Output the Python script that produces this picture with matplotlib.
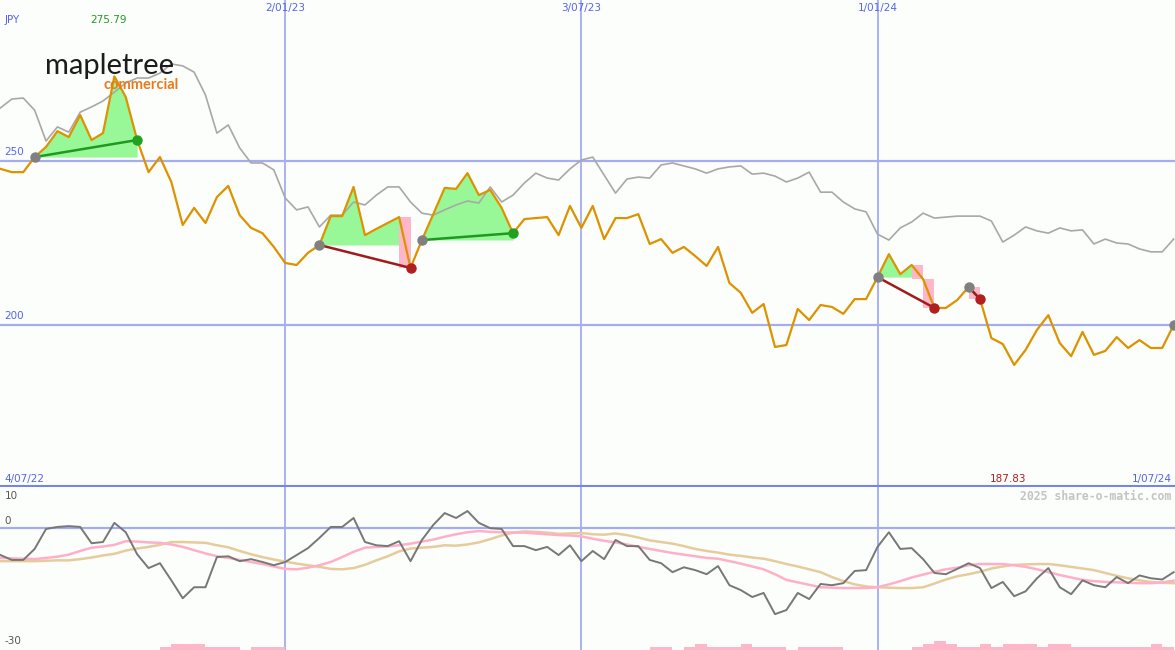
import matplotlib
matplotlib.use('Agg')
import matplotlib.pyplot as plt
import pandas as pd

# weekly closes, Mapletree Commercial (JPY scale as shown) and comparison index
dates = pd.date_range(end='2024-07-01', periods=104, freq='7D')

price = [247.6, 246.6, 246.6, 251.2, 254.3, 259.1, 257.3, 264.0, 256.4, 258.5,
         275.79, 269.5, 256.4, 246.6, 251.2, 243.6, 230.5, 235.7, 231.1, 239.0,
         242.4, 233.5, 229.6, 228.0, 223.8, 218.9, 218.3, 222.0, 224.4, 233.2,
         233.2, 242.1, 227.4, 229.3, 231.1, 232.9, 217.4, 225.9, 233.8, 241.8,
         241.5, 246.3, 239.6, 241.2, 235.7, 228.0, 232.3, 232.6, 232.9, 227.4,
         236.3, 229.6, 236.3, 226.2, 232.6, 232.6, 233.8, 224.7, 226.2, 222.0,
         223.8, 221.0, 218.0, 223.8, 212.8, 209.8, 203.7, 206.4, 193.3, 193.9,
         204.9, 201.5, 206.1, 205.5, 203.4, 207.9, 207.9, 214.6, 221.6, 215.5,
         218.3, 214.0, 205.2, 205.2, 207.6, 211.6, 207.9, 196.0, 194.2, 187.83,
         192.4, 198.5, 203.0, 194.5, 190.5, 197.9, 190.9, 192.1, 196.3, 193.0,
         195.4, 193.0, 193.0, 200.0]

index_line = [266.2, 268.9, 269.2, 265.5, 256.1, 260.4, 258.8, 264.9, 266.5, 268.3,
              271.0, 273.8, 275.3, 275.3, 276.8, 279.6, 279.0, 277.1, 270.1, 258.5,
              261.0, 254.0, 249.4, 249.4, 247.3, 238.7, 235.1, 236.0, 229.9, 233.5,
              233.5, 237.5, 236.6, 239.6, 242.1, 242.1, 237.5, 234.1, 233.5, 235.1,
              236.6, 237.8, 237.2, 242.1, 237.5, 239.6, 243.3, 246.3, 244.8, 244.2,
              247.6, 250.3, 251.2, 245.7, 240.2, 244.5, 245.1, 244.8, 248.8, 249.4,
              248.5, 247.6, 246.3, 247.6, 248.2, 248.5, 246.0, 246.3, 245.4, 243.6,
              244.8, 246.6, 240.5, 240.5, 237.5, 235.4, 234.5, 227.7, 225.9, 229.6,
              231.4, 234.1, 232.6, 232.9, 233.2, 233.2, 233.2, 231.7, 225.3, 227.4,
              229.9, 228.7, 228.0, 229.6, 228.7, 229.0, 224.7, 226.2, 225.0, 224.7,
              223.2, 222.3, 222.3, 226.2]

momentum = [-6.7, -7.9, -7.9, -5.2, -0.3, 0.2, 0.4, 0.2, -3.8, -3.5,
            1.2, -1.1, -6.5, -9.9, -8.7, -12.9, -17.3, -14.6, -14.6, -7.2,
            -7.0, -8.2, -7.7, -8.4, -9.2, -8.4, -6.7, -5.0, -2.5, 0.2,
            0.2, 2.4, -3.5, -4.3, -4.5, -3.3, -8.2, -3.0, 0.7, 3.6,
            2.4, 4.1, 1.2, -0.1, -0.3, -4.5, -4.5, -5.5, -4.7, -6.7,
            -4.3, -8.2, -5.7, -7.7, -3.0, -4.5, -4.5, -7.9, -8.7, -10.9,
            -9.7, -10.4, -11.4, -9.4, -14.1, -15.3, -17.0, -16.0, -21.2, -20.2,
            -16.0, -17.5, -13.8, -14.1, -13.6, -10.6, -10.4, -4.7, -1.1, -5.2,
            -5.0, -7.7, -11.1, -11.4, -10.1, -8.7, -9.9, -14.8, -13.3, -16.8,
            -15.6, -12.4, -9.9, -14.6, -16.3, -12.9, -14.1, -14.6, -12.1, -13.6,
            -11.7, -12.4, -12.7, -10.9]

avg_fast = [-7.4, -7.5, -7.6, -7.7, -7.4, -7.1, -6.6, -5.7, -4.9, -4.6,
            -4.2, -3.3, -3.4, -3.6, -3.7, -4.1, -4.7, -5.5, -6.3, -7.0,
            -7.4, -7.9, -8.4, -8.9, -9.5, -10.1, -10.2, -9.8, -9.2, -8.4,
            -7.2, -5.9, -4.9, -4.7, -4.6, -4.3, -3.9, -3.4, -2.9, -2.2,
            -1.6, -1.1, -0.8, -1.0, -1.1, -1.2, -1.2, -1.4, -1.6, -1.8,
            -1.9, -2.1, -2.7, -3.2, -3.6, -4.1, -4.7, -5.2, -5.7, -6.2,
            -6.6, -7.0, -7.4, -7.6, -8.2, -8.8, -9.5, -10.2, -11.4, -12.8,
            -13.4, -14.0, -14.6, -14.7, -14.8, -14.8, -14.8, -14.6, -13.9, -13.1,
            -12.2, -11.5, -10.8, -10.2, -9.8, -9.2, -8.9, -8.9, -8.9, -9.2,
            -9.6, -10.2, -10.9, -11.6, -12.2, -12.8, -13.1, -13.3, -13.4, -13.5,
            -13.6, -13.6, -13.4, -13.0]

avg_slow = [-8.2, -8.2, -8.2, -8.2, -8.1, -8.0, -8.0, -7.7, -7.3, -6.8,
            -6.4, -5.6, -5.1, -4.7, -4.2, -3.5, -3.5, -3.6, -3.7, -4.3,
            -4.8, -5.7, -6.5, -7.2, -7.8, -8.3, -8.8, -9.2, -9.6, -10.1,
            -10.2, -9.9, -9.1, -8.0, -7.0, -5.8, -5.1, -4.9, -4.7, -4.3,
            -4.4, -4.1, -3.6, -2.8, -1.9, -1.2, -0.9, -1.0, -1.2, -1.5,
            -1.4, -1.3, -1.6, -1.7, -1.4, -1.8, -2.4, -3.1, -3.5, -3.9,
            -4.5, -5.2, -5.7, -6.1, -6.6, -6.9, -7.3, -7.6, -8.2, -8.9,
            -9.5, -10.2, -10.9, -12.1, -13.1, -13.9, -14.4, -14.6, -14.7, -14.8,
            -14.8, -14.6, -13.7, -12.7, -11.9, -11.4, -10.8, -10.0, -9.5, -9.1,
            -9.0, -8.9, -8.9, -9.2, -9.6, -10.0, -10.4, -11.1, -11.8, -12.4,
            -12.9, -13.3, -13.5, -13.6]

volume = [0, 0, 0, 0, 0, 0, 0, 0, 0, 0,
          0, 0, 0, 0, .75, 1.5, 1.5, 1.5, .75, .75,
          .75, 0, .75, .75, .75, 0, 0, 0, 0, 0,
          0, 0, 0, 0, 0, 0, 0, 0, 0, 0,
          0, 0, 0, 0, 0, 0, 0, 0, 0, 0,
          0, 0, 0, 0, 0, 0, 0, .75, .75, 0,
          .75, 1.5, .75, .75, .75, 1.5, .75, .75, .75, 0,
          .75, .75, .75, .75, 0, 0, 0, 0, 0, 0,
          .75, 1.5, 2.25, 1.5, .75, .75, 1.5, .75, 1.5, 1.5,
          1.5, .75, 1.5, 1.5, .75, .75, .75, .75, .75, .75,
          .75, 1.5, .75, 0]

# (start, last green point, end, direction)
patterns = [(3, 12, 12, 'up'), (28, 35, 36, 'down'), (37, 45, 45, 'up'),
            (77, 80, 82, 'down'), (85, 85, 86, 'down')]

grid_dates = ['2023-01-02', '2023-07-03', '2024-01-01']
grid_labels = ['2/01/23', '3/07/23', '1/01/24']

W, H = 1175, 650
bg = '#fcfefb'
grid_c = '#a3adf0'
blue_txt = '#5563ee'

fig = plt.figure(figsize=(W / 100, H / 100), dpi=100)
fig.patch.set_facecolor(bg)
top = fig.add_axes([0, 163 / H, 1, 487 / H])
bot = fig.add_axes([0, 0, 1, 163 / H])

xlim = (dates[0] - pd.Timedelta(hours=7), dates[-1] + pd.Timedelta(hours=20))
for ax in (top, bot):
    ax.set_facecolor(bg)
    ax.set_xlim(*xlim)
    ax.set_xticks([])
    ax.set_yticks([])
    for sp in ax.spines.values():
        sp.set_visible(False)
    for d in grid_dates:
        ax.axvline(pd.Timestamp(d), color=grid_c, lw=1.3, zorder=1)

top.set_ylim(150.61, 299.09)
bot.set_ylim(-30, 10)

for lvl in (250, 200):
    top.axhline(lvl, color=grid_c, lw=1.6, zorder=1)
    top.text(0.004, lvl + 1.3, str(lvl), transform=top.get_yaxis_transform(),
             color=blue_txt, fontsize=7.5, va='bottom', ha='left')
top.axhline(150.61 + 0.3, color='#7385ec', lw=2.2, zorder=6)
bot.axhline(0, color=grid_c, lw=1.6, zorder=1)

# logo
fig.text(45 / W, 1 - 74 / H, 'mapletree', fontsize=21, family='Lato',
         color='#1c1c1c', va='baseline', zorder=0)
fig.text(103 / W, 1 - 89 / H, 'commercial', fontsize=10.5, family='Lato',
         fontweight='bold', color='#e87a1c', va='baseline', zorder=0)

top.plot(dates, index_line, color='#a8a8a8', lw=1.2, zorder=3)

green_fill = '#98f898'
pink_fill = '#ffb6c8'
for s, p, e, kind in patterns:
    base = price[s]
    if p > s:
        ys = pd.Series(price[s:p + 1])
        top.fill_between(dates[s:p + 1], ys, base, where=ys >= base,
                         interpolate=True, color=green_fill, lw=0, zorder=2)
    for k in range(p, e):
        top.bar(dates[k], price[k] - price[k + 1], bottom=price[k + 1],
                width=7, align='edge', color=pink_fill, lw=0, zorder=2)
    lc = '#1f9a1f' if kind == 'up' else '#a01c1c'
    top.plot([dates[s], dates[e]], [price[s], price[e]], color=lc, lw=1.8, zorder=5)

top.plot(dates, price, color='#dd9200', lw=1.6, zorder=4)

for s, p, e, kind in patterns:
    top.plot(dates[s], price[s], 'o', color='#808080', ms=7.5, mew=0, zorder=6)
    ec = '#22a022' if kind == 'up' else '#b02020'
    top.plot(dates[e], price[e], 'o', color=ec, ms=7.5, mew=0, zorder=6)
top.plot(dates[-1], price[-1], 'o', color='#808080', ms=7.5, mew=0, zorder=6)

# labels
top.text(0.004, 1 - 20 / 487, 'JPY', transform=top.transAxes, color=blue_txt,
         fontsize=7.5, va='center')
top.text(90 / W, 1 - 20 / 487, '275.79', transform=top.transAxes, color='#229922',
         fontsize=7.5, va='center')
for d, lab in zip(grid_dates, grid_labels):
    top.text(pd.Timestamp(d), 1 - 8 / 487, lab, transform=top.get_xaxis_transform(),
             color=blue_txt, fontsize=7.5, va='center', ha='center')
top.text(0.004, 8 / 487, '4/07/22', transform=top.transAxes, color=blue_txt,
         fontsize=7.5, va='center')
top.text(0.997, 8 / 487, '1/07/24', transform=top.transAxes, color=blue_txt,
         fontsize=7.5, va='center', ha='right')
top.text(1008 / W, 8 / 487, '187.83', transform=top.transAxes, color='#b02020',
         fontsize=7.5, va='center', ha='center')

# lower panel
bot.bar(dates, volume, bottom=-30, width=7, align='edge', color='#ffb6c8', lw=0, zorder=2)
bot.plot(dates, avg_slow, color='#e6cc9c', lw=1.8, zorder=3)
bot.plot(dates, avg_fast, color='#ffb0c8', lw=1.8, zorder=3)
bot.plot(dates, momentum, color='#777777', lw=1.4, zorder=4)

for v, y in (('10', 496), ('0', 521), ('-30', 641)):
    bot.text(0.004, 1 - (y - 487) / 163, v, transform=bot.transAxes,
             color='#555555', fontsize=7.5, va='center')
bot.text(0.997, 1 - 9 / 163, '2025 share-o-matic.com', transform=bot.transAxes,
         color='#c4c4c4', fontsize=8.3, family='DejaVu Sans Mono',
         fontweight='bold', va='center', ha='right')

fig.savefig('out.png', dpi=100, facecolor=bg)
